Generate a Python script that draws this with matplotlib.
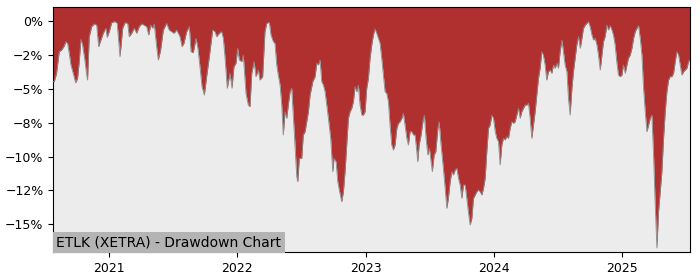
import matplotlib
matplotlib.use("Agg")
import matplotlib.pyplot as plt
from matplotlib.ticker import FuncFormatter

# ─────────────────────────────────────────────
#  DATA — drawdown (%) against decimal year
# ─────────────────────────────────────────────

years = [
    2020.563, 2020.571, 2020.589, 2020.610, 2020.628, 2020.646, 2020.662, 2020.675, 2020.688, 2020.701,
    2020.719, 2020.738, 2020.753, 2020.766, 2020.779, 2020.792, 2020.810, 2020.824, 2020.831, 2020.844,
    2020.863, 2020.883, 2020.902, 2020.917, 2020.935, 2020.953, 2020.974, 2020.984, 2021.000, 2021.019,
    2021.044, 2021.062, 2021.084, 2021.105, 2021.123, 2021.144, 2021.156, 2021.175, 2021.195, 2021.214,
    2021.234, 2021.253, 2021.271, 2021.292, 2021.308, 2021.323, 2021.339, 2021.351, 2021.370, 2021.383,
    2021.401, 2021.422, 2021.448, 2021.468, 2021.487, 2021.505, 2021.526, 2021.552, 2021.568, 2021.583,
    2021.604, 2021.625, 2021.638, 2021.656, 2021.677, 2021.692, 2021.708, 2021.724, 2021.742, 2021.760,
    2021.781, 2021.807, 2021.825, 2021.838, 2021.859, 2021.877, 2021.890, 2021.903, 2021.921, 2021.942,
    2021.958, 2021.973, 2021.989, 2022.002, 2022.015, 2022.034, 2022.046, 2022.067, 2022.085, 2022.098,
    2022.112, 2022.130, 2022.145, 2022.163, 2022.176, 2022.197, 2022.215, 2022.229, 2022.249, 2022.262,
    2022.280, 2022.293, 2022.307, 2022.319, 2022.333, 2022.346, 2022.358, 2022.372, 2022.385, 2022.397,
    2022.411, 2022.424, 2022.436, 2022.450, 2022.463, 2022.471, 2022.483, 2022.502, 2022.514, 2022.528,
    2022.541, 2022.554, 2022.567, 2022.588, 2022.606, 2022.619, 2022.632, 2022.645, 2022.658, 2022.671,
    2022.684, 2022.697, 2022.710, 2022.728, 2022.744, 2022.754, 2022.770, 2022.783, 2022.795, 2022.814,
    2022.827, 2022.840, 2022.853, 2022.866, 2022.879, 2022.892, 2022.905, 2022.918, 2022.931, 2022.944,
    2022.957, 2022.971, 2022.983, 2022.996, 2023.009, 2023.022, 2023.035, 2023.048, 2023.061, 2023.074,
    2023.087, 2023.100, 2023.113, 2023.126, 2023.139, 2023.152, 2023.165, 2023.178, 2023.191, 2023.204,
    2023.217, 2023.230, 2023.244, 2023.256, 2023.269, 2023.283, 2023.295, 2023.308, 2023.322, 2023.334,
    2023.347, 2023.361, 2023.373, 2023.386, 2023.400, 2023.407, 2023.418, 2023.433, 2023.451, 2023.459,
    2023.472, 2023.486, 2023.498, 2023.511, 2023.521, 2023.535, 2023.548, 2023.564, 2023.574, 2023.589,
    2023.607, 2023.621, 2023.634, 2023.646, 2023.660, 2023.673, 2023.685, 2023.699, 2023.712, 2023.725,
    2023.738, 2023.751, 2023.764, 2023.777, 2023.790, 2023.802, 2023.816, 2023.829, 2023.842, 2023.855,
    2023.868, 2023.881, 2023.894, 2023.907, 2023.920, 2023.933, 2023.946, 2023.959, 2023.972, 2023.985,
    2023.998, 2024.012, 2024.024, 2024.037, 2024.050, 2024.063, 2024.076, 2024.089, 2024.101, 2024.115,
    2024.128, 2024.141, 2024.154, 2024.167, 2024.180, 2024.193, 2024.206, 2024.219, 2024.232, 2024.245,
    2024.258, 2024.271, 2024.284, 2024.297, 2024.310, 2024.323, 2024.336, 2024.349, 2024.362, 2024.375,
    2024.387, 2024.401, 2024.413, 2024.427, 2024.440, 2024.453, 2024.466, 2024.479, 2024.493, 2024.505,
    2024.518, 2024.532, 2024.544, 2024.557, 2024.571, 2024.583, 2024.596, 2024.610, 2024.622, 2024.635,
    2024.648, 2024.661, 2024.675, 2024.688, 2024.700, 2024.714, 2024.727, 2024.739, 2024.752, 2024.766,
    2024.778, 2024.791, 2024.805, 2024.817, 2024.831, 2024.844, 2024.856, 2024.869, 2024.883, 2024.895,
    2024.909, 2024.922, 2024.934, 2024.947, 2024.960, 2024.973, 2024.987, 2025.000, 2025.012, 2025.026,
    2025.039, 2025.051, 2025.065, 2025.078, 2025.091, 2025.104, 2025.117, 2025.130, 2025.143, 2025.156,
    2025.169, 2025.182, 2025.195, 2025.208, 2025.221, 2025.234, 2025.247, 2025.260, 2025.273, 2025.286,
    2025.299, 2025.312, 2025.325, 2025.338, 2025.351, 2025.364, 2025.377, 2025.390, 2025.403, 2025.416,
    2025.429, 2025.442, 2025.455, 2025.468, 2025.481, 2025.494, 2025.507, 2025.520, 2025.533,
]

drawdown = [
    -4.45, -4.45, -3.83, -2.23, -2.11, -1.86, -1.49, -1.61, -2.35, -3.22,
    -3.83, -4.53, -4.20, -2.97, -1.32, -1.74, -2.85, -3.96, -4.33, -1.12,
    -0.38, -0.18, -0.26, -1.86, -1.37, -0.87, -0.50, -1.17, -0.75, -0.09,
    0.00, -0.13, -2.60, -0.50, -0.09, -0.13, -1.12, -0.87, -0.50, -0.87,
    -0.38, -0.18, -0.26, -0.38, -1.00, -0.26, -0.50, -0.18, -1.86, -2.85,
    -2.11, -0.63, -0.13, -0.63, -0.75, -0.87, -0.63, -1.12, -1.86, -1.61,
    -0.75, -0.38, -2.23, -2.31, -1.24, -1.98, -3.34, -4.82, -5.44, -4.08,
    -2.60, -0.63, -0.75, -1.12, -0.87, -0.75, -1.24, -2.60, -4.94, -3.83,
    -4.94, -3.34, -3.09, -1.98, -2.85, -2.97, -2.48, -5.31, -6.18, -6.30,
    -3.83, -2.97, -4.08, -3.59, -4.33, -4.08, -0.75, -0.13, -0.06, -1.00,
    -1.49, -1.61, -3.22, -3.96, -4.70, -6.18, -8.39, -6.67, -7.16, -6.18,
    -5.19, -4.94, -6.92, -9.13, -11.48, -11.85, -10.12, -10.12, -8.39, -8.15,
    -7.41, -6.67, -5.44, -4.45, -4.08, -3.09, -3.22, -2.85, -4.45, -4.70,
    -5.19, -6.18, -7.16, -8.64, -11.11, -10.12, -10.37, -11.85, -12.46, -13.33,
    -12.59, -11.11, -9.13, -7.16, -6.67, -6.42, -5.93, -4.82, -5.19, -4.70,
    -6.18, -6.92, -6.92, -6.67, -4.94, -4.20, -2.72, -1.74, -1.00, -0.55,
    -0.87, -1.24, -1.61, -2.72, -3.96, -5.19, -5.31, -5.93, -7.66, -9.13,
    -9.50, -9.13, -7.90, -7.53, -7.41, -7.16, -6.79, -7.66, -8.64, -9.13,
    -8.15, -8.15, -8.39, -8.39, -9.63, -10.37, -9.13, -8.39, -7.16, -6.92,
    -8.64, -9.87, -9.38, -10.37, -11.11, -9.87, -9.63, -7.90, -7.41, -9.13,
    -10.86, -12.34, -13.82, -13.08, -11.85, -11.11, -11.35, -10.98, -10.86, -11.60,
    -12.09, -13.08, -12.09, -12.09, -13.08, -14.07, -15.05, -14.56, -13.08, -12.83,
    -12.59, -12.46, -12.59, -12.83, -12.34, -11.60, -9.63, -7.90, -7.66, -6.92,
    -7.16, -8.15, -8.64, -8.89, -10.61, -9.13, -8.64, -8.76, -8.52, -8.64,
    -7.90, -7.41, -7.53, -7.41, -6.92, -6.42, -7.16, -6.67, -6.42, -6.18,
    -6.18, -6.05, -7.16, -8.64, -7.66, -6.67, -5.44, -4.20, -3.46, -2.23,
    -2.48, -3.22, -4.33, -3.71, -3.59, -3.83, -3.22, -3.46, -3.09, -3.46,
    -2.23, -1.37, -2.23, -3.22, -3.71, -5.68, -6.92, -4.94, -3.71, -2.72,
    -1.74, -1.12, -1.98, -1.24, -0.50, -0.26, -0.13, -0.01, -0.38, -1.00,
    -1.37, -1.24, -1.74, -2.48, -3.59, -2.48, -1.49, -1.12, -0.26, -0.63,
    -0.31, -0.63, -1.00, -1.74, -2.97, -3.96, -4.08, -3.96, -3.22, -3.83,
    -3.22, -2.72, -2.48, -1.98, -1.24, -0.75, -0.50, -0.31, -1.24, -2.48,
    -4.94, -6.67, -8.15, -7.66, -7.16, -6.92, -9.87, -13.57, -16.75, -14.07,
    -12.59, -11.11, -8.64, -6.67, -5.19, -4.33, -4.08, -4.08, -3.83, -2.97,
    -2.23, -2.48, -3.22, -3.96, -3.71, -3.59, -3.46, -2.97, -2.80,
]

year_ticks = [2021, 2022, 2023, 2024, 2025]
pct_ticks = [0, -2.5, -5, -7.5, -10, -12.5, -15]
title = "ETLK (XETRA) - Drawdown Chart"

# ─────────────────────────────────────────────
#  PLOT
# ─────────────────────────────────────────────

fig = plt.figure(figsize=(7, 2.8), dpi=100)
ax = fig.add_axes([0.076, 0.099, 0.910, 0.875])
ax.set_facecolor("#ececec")

y_top, y_bot = 1.05, -17.07
ax.fill_between(years, drawdown, y_top + 1, color="#b03030", lw=0, zorder=2)
ax.plot(years, drawdown, color="#8a8a8a", lw=0.6, zorder=3)

ax.set_xlim(2020.563, 2025.533)
ax.set_ylim(y_bot, y_top)
ax.set_xticks(year_ticks)
ax.set_xticklabels([str(y) for y in year_ticks])
ax.set_yticks(pct_ticks)
ax.yaxis.set_major_formatter(
    FuncFormatter(lambda v, _: f"{v:.0f}%".replace("-", "\u2212")))
ax.tick_params(labelsize=9)

ax.text(0.005, 0.012, title, transform=ax.transAxes, fontsize=10,
        ha="left", va="bottom", zorder=5,
        bbox=dict(facecolor="#b4b4b4", edgecolor="none", pad=2.5))

fig.savefig("out.png", dpi=100)
